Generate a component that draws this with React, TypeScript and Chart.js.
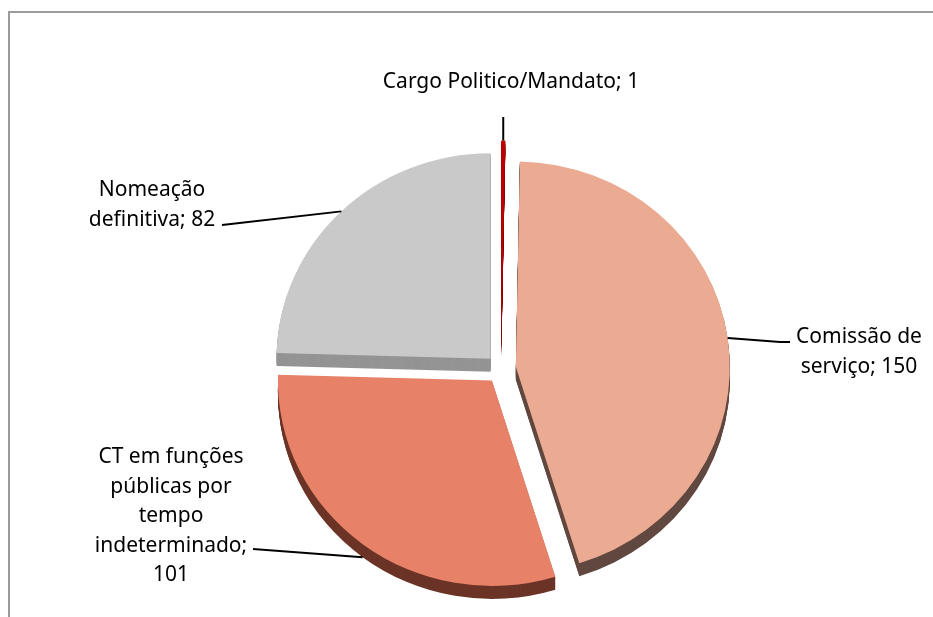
import React, { useEffect, useRef } from "react";
import { Chart, registerables } from "chart.js";

Chart.register(...registerables);

// ---- data ----
const categories = [
  "Cargo Politico/Mandato",
  "Comissão de serviço",
  "CT em funções públicas por tempo indeterminado",
  "Nomeação definitiva",
];
const values = [1, 150, 101, 82];
const topColors = ["#C00000", "#EBAA92", "#E78268", "#C9C9C9"];
const sideColors = ["#7A0000", "#614840", "#6B3427", "#949494"];
const explode = [24, 15, 15, 15];
// wrapped label text (category; value)
const labelLines = [
  ["Cargo Politico/Mandato; 1"],
  ["Comissão de", "serviço; 150"],
  ["CT em funções", "públicas por", "tempo", "indeterminado;", "101"],
  ["Nomeação", "definitiva; 82"],
];

// ---- layout / style ----
const W = 933;
const H = 617;
const RADIUS = 214;
const SCALE_Y = 0.96;
const DEPTH = 13;
const FONT = '21px "Noto Sans", "Open Sans", sans-serif';
const LINE_H = 29.5;
// label placement: text centre x, first baseline y, leader path points (label side first);
// a null x means "same x as the slice anchor" (vertical leader)
const labelLayout: { tx: number; by: number; path: [number | null, number][] }[] = [
  { tx: 511, by: 88, path: [[null, 117]] },
  { tx: 859, by: 343, path: [[790, 342], [780, 342]] },
  { tx: 171, by: 463, path: [[253, 549]] },
  { tx: 152, by: 196, path: [[222, 225]] },
];

const pie3d = {
  id: "pie3d",
  beforeDatasetsDraw(chart: any) {
    const ctx = chart.ctx;
    const meta = chart.getDatasetMeta(0);
    const cx = meta.data[0].x;
    const cy = meta.data[0].y;
    ctx.save();
    ctx.translate(cx, cy);
    ctx.scale(1, SCALE_Y);
    ctx.translate(-cx, -cy);
    const drawOne = (arc: any, i: number, dy: number, color: string) => {
      const mid = (arc.startAngle + arc.endAngle) / 2;
      ctx.save();
      ctx.translate(Math.cos(mid) * explode[i], Math.sin(mid) * explode[i] + dy);
      const o = arc.options;
      arc.options = { ...o, backgroundColor: color, borderWidth: 0, offset: 0 };
      arc.draw(ctx);
      arc.options = o;
      ctx.restore();
    };
    for (let d = DEPTH; d >= 1; d--) {
      meta.data.forEach((arc: any, i: number) => drawOne(arc, i, d / SCALE_Y, sideColors[i]));
    }
    meta.data.forEach((arc: any, i: number) => drawOne(arc, i, 0, topColors[i]));
    ctx.restore();
    return false;
  },
};

const labelsPlugin = {
  id: "pieLabels",
  afterDraw(chart: any) {
    const ctx = chart.ctx;
    const meta = chart.getDatasetMeta(0);
    meta.data.forEach((arc: any, i: number) => {
      const { x, y, startAngle, endAngle, outerRadius } = arc.getProps(
        ["x", "y", "startAngle", "endAngle", "outerRadius"],
        true
      );
      const mid = (startAngle + endAngle) / 2;
      const off = explode[i];
      const px = x + Math.cos(mid) * (outerRadius + off);
      let py = y + Math.sin(mid) * (outerRadius + off) * SCALE_Y;
      if (Math.sin(mid) > 0.3) py += DEPTH;
      const lay = labelLayout[i];
      ctx.save();
      ctx.strokeStyle = "#000";
      ctx.lineWidth = 2;
      ctx.beginPath();
      ctx.moveTo(px, py);
      for (let k = lay.path.length - 1; k >= 0; k--) {
        const [lx, ly] = lay.path[k];
        ctx.lineTo(lx === null ? px : lx, ly);
      }
      ctx.stroke();
      ctx.fillStyle = "#000";
      ctx.font = FONT;
      ctx.textAlign = "center";
      ctx.textBaseline = "alphabetic";
      labelLines[i].forEach((t, k) => ctx.fillText(t, lay.tx, lay.by + k * LINE_H));
      ctx.restore();
    });
  },
};

export default function App() {
  const ref = useRef<HTMLCanvasElement>(null);
  useEffect(() => {
    if (!ref.current) return;
    const chart = new Chart(ref.current, {
      type: "pie",
      data: {
        labels: categories,
        datasets: [
          {
            data: values,
            backgroundColor: topColors,
            borderWidth: 0,
            radius: RADIUS,
            clip: false,
          } as any,
        ],
      },
      options: {
        responsive: false,
        animation: false,
        layout: { padding: { left: 69, top: 121, right: 0, bottom: 0 } },
        plugins: { legend: { display: false }, tooltip: { enabled: false } },
        events: [],
      } as any,
      plugins: [pie3d, labelsPlugin],
    });
    return () => chart.destroy();
  }, []);
  return (
    <div
      style={{
        position: "fixed",
        left: 0,
        top: 0,
        width: W,
        height: H,
        overflow: "hidden",
        background: "#fff",
      }}
    >
      <div
        style={{
          position: "absolute",
          left: 8,
          top: 11,
          width: 1000,
          height: 1000,
          border: "2px solid #9b9b9b",
          boxSizing: "border-box",
        }}
      />
      <canvas
        ref={ref}
        width={W}
        height={H}
        style={{ position: "absolute", left: 0, top: 0, width: W, height: H }}
      />
    </div>
  );
}
